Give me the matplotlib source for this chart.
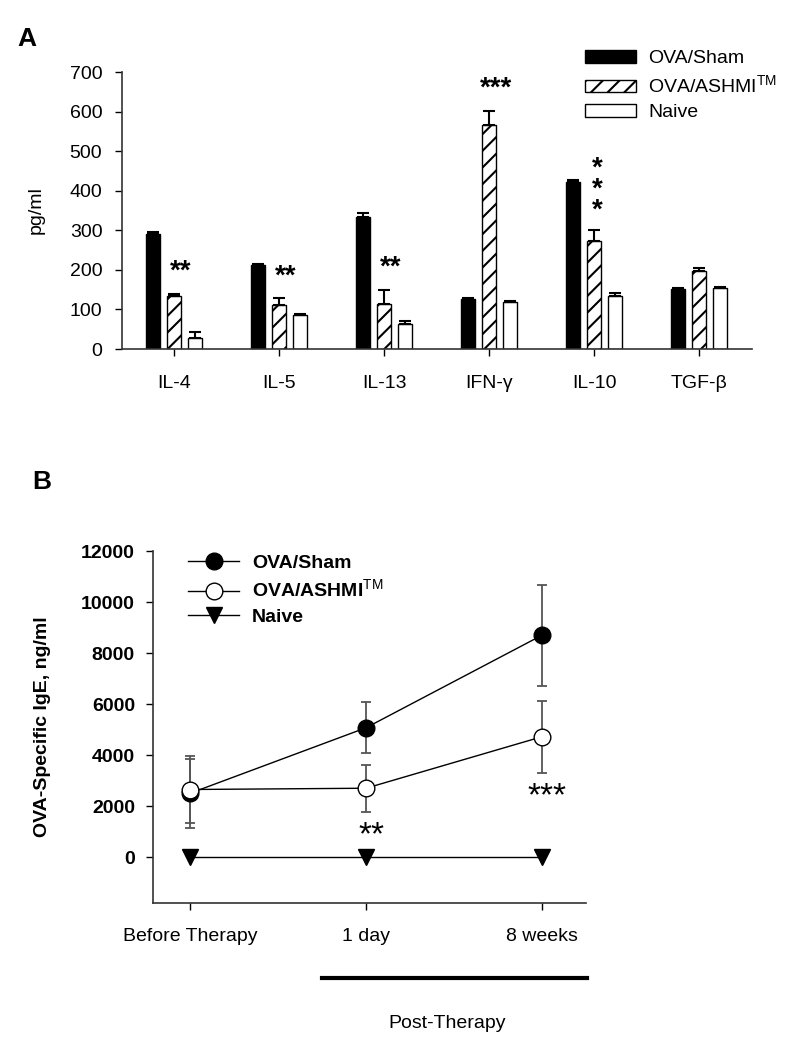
import numpy as np
import matplotlib
matplotlib.use("Agg")
import matplotlib.pyplot as plt
from matplotlib.lines import Line2D

plt.rcParams['font.family'] = ['Liberation Sans', 'DejaVu Sans']
plt.rcParams['mathtext.fontset'] = 'custom'
plt.rcParams['mathtext.rm'] = 'Liberation Sans'
plt.rcParams['mathtext.bf'] = 'Liberation Sans:bold'
plt.rcParams['hatch.linewidth'] = 1.5

# ---- panel A data (pg/ml) ----
cytokines = ['IL-4', 'IL-5', 'IL-13', 'IFN-γ', 'IL-10', 'TGF-β']
sham = [290, 212, 334, 126, 421, 152]
sham_err = [6, 2, 10, 2, 6, 3]
ashmi = [135, 110, 113, 567, 272, 198]
ashmi_err = [5, 18, 37, 35, 29, 7]
naive = [29, 87, 63, 120, 134, 153]
naive_err = [13, 2, 8, 2, 7, 3]
stars_a = ['**', '**', '**', '***', '*\n*\n*', '']

# ---- panel B data (ng/ml) ----
timepoints = ['Before Therapy', '1 day', '8 weeks']
ige_sham = [2500, 5070, 8700]
ige_sham_err = [1350, 1000, 1975]
ige_ashmi = [2650, 2700, 4720]
ige_ashmi_err = [1300, 930, 1415]
ige_naive = [0, 0, 0]
stars_b = ['', '**', '***']

fig = plt.figure(figsize=(8.12, 10.5), dpi=100)

# ================= A =================
axA = fig.add_axes([0.150, 0.6676, 0.776, 0.2638])
x = np.arange(len(cytokines))
w = 0.135
off = 0.2
ekw = dict(ecolor='black', elinewidth=1.5, capsize=4.3, capthick=1.5)
axA.bar(x - off, sham, w, color='black', edgecolor='black', linewidth=1,
        yerr=[np.zeros(6), sham_err], error_kw=ekw, label='OVA/Sham')
axA.bar(x, ashmi, w, color='white', edgecolor='black', linewidth=1, hatch='//',
        yerr=[np.zeros(6), ashmi_err], error_kw=ekw, label='OVA/ASHMI$^{\\mathrm{TM}}$')
axA.bar(x + off, naive, w, color='white', edgecolor='black', linewidth=1,
        yerr=[np.zeros(6), naive_err], error_kw=ekw, label='Naive')

for i, s in enumerate(stars_a):
    if not s:
        continue
    if '\n' in s:
        axA.text(x[i] + 0.03, 490, s, ha='center', va='top', fontsize=20,
                 fontweight='bold', linespacing=0.75)
    else:
        axA.text(x[i] + 0.06, ashmi[i] + ashmi_err[i] + 55, s, ha='center',
                 va='center', fontsize=20, fontweight='bold')

axA.set_xlim(-0.5, 5.5)
axA.set_ylim(0, 700)
axA.set_yticks(range(0, 701, 100))
axA.set_xticks(x)
axA.set_xticklabels(cytokines)
axA.tick_params(axis='both', labelsize=14, direction='out', length=5, width=1)
axA.tick_params(axis='x', pad=14)
axA.tick_params(axis='y', pad=9)
for sp in ['top', 'right']:
    axA.spines[sp].set_visible(False)
for sp in ['left', 'bottom']:
    axA.spines[sp].set_linewidth(1.2)
    axA.spines[sp].set_color('#333333')
axA.set_ylabel('pg/ml', fontsize=14)
axA.yaxis.set_label_coords(-0.122, 0.5)
fig.legend(*axA.get_legend_handles_labels(), loc='upper left',
           bbox_to_anchor=(0.7204, 0.9524), bbox_transform=fig.transFigure,
           frameon=False, fontsize=14, borderpad=0, borderaxespad=0,
           handlelength=2.63, handleheight=0.62, handletextpad=0.62,
           labelspacing=0.37)
fig.text(17 / 812, 1 - 46 / 1050, 'A', fontsize=19, fontweight='bold',
         ha='left', va='baseline')

# ================= B =================
axB = fig.add_axes([0.1884, 0.14, 0.5333, 0.3352])
t = np.arange(len(timepoints))
bekw = dict(ecolor='#555555', elinewidth=1.3, capsize=3.6, capthick=1.3)
axB.errorbar(t, ige_sham, yerr=ige_sham_err, fmt='none', zorder=1, **bekw)
axB.errorbar(t, ige_ashmi, yerr=ige_ashmi_err, fmt='none', zorder=1, **bekw)
axB.plot(t, ige_sham, '-o', color='black', mfc='black', mec='black',
         ms=12, lw=1, zorder=3, label='OVA/Sham')
axB.plot(t, ige_ashmi, '-o', color='black', mfc='white', mec='black',
         ms=12, lw=1, zorder=4, label='OVA/ASHMI$^{\\mathrm{TM}}$')
axB.plot(t, ige_naive, '-v', color='black', mfc='black', mec='black',
         ms=12, lw=1, zorder=4, label='Naive')

for i, s in enumerate(stars_b):
    if s:
        axB.text(t[i] + 0.03, ige_ashmi[i] - ige_ashmi_err[i] - 950, s,
                 ha='center', va='center', fontsize=24)

axB.set_xlim(-0.21, 2.25)
axB.set_ylim(-1800, 12000)
axB.set_yticks(range(0, 12001, 2000))
axB.set_xticks(t)
axB.set_xticklabels(timepoints)
axB.tick_params(axis='both', direction='out', length=5, width=1)
axB.tick_params(axis='x', labelsize=14, pad=13)
axB.tick_params(axis='y', labelsize=14, pad=8)
for lab in axB.get_yticklabels():
    lab.set_fontweight('bold')
for sp in ['top', 'right']:
    axB.spines[sp].set_visible(False)
for sp in ['left', 'bottom']:
    axB.spines[sp].set_linewidth(1.2)
    axB.spines[sp].set_color('#333333')
axB.set_ylabel('OVA-Specific IgE, ng/ml', fontsize=14, fontweight='bold')
axB.yaxis.set_label_coords(-0.236, 0.5)
fig.legend(*axB.get_legend_handles_labels(), loc='upper left',
           bbox_to_anchor=(0.2315, 0.4724), bbox_transform=fig.transFigure,
           frameon=False, borderpad=0, borderaxespad=0,
           handlelength=2.63, handletextpad=0.67, labelspacing=0.37,
           numpoints=1, prop={'weight': 'bold', 'size': 14})
fig.text(32 / 812, 1 - 489 / 1050, 'B', fontsize=19, fontweight='bold',
         ha='left', va='baseline')

# post-therapy bracket
fig.add_artist(Line2D([322 / 812, 587 / 812], [1 - 978 / 1050, 1 - 978 / 1050],
                      color='black', lw=3))
fig.text(447 / 812, 1 - 1023 / 1050, 'Post-Therapy', fontsize=14,
         ha='center', va='center')

fig.savefig('out.png', dpi=100)
